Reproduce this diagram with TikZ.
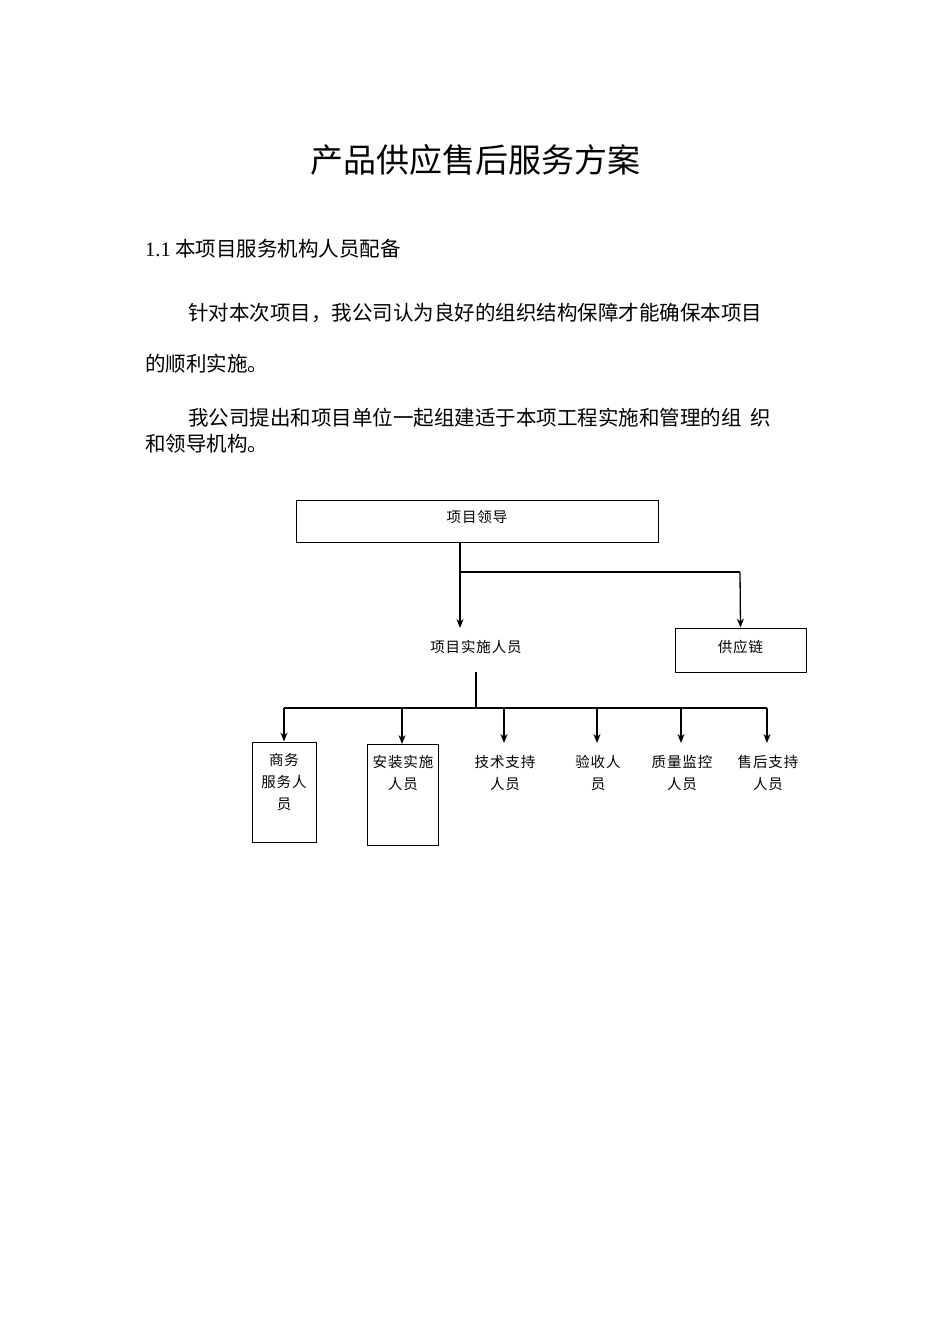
\documentclass[tikz,border=0pt]{standalone}
\usepackage{fontspec}
\setmainfont{Liberation Serif}
\newfontfamily\cjk{Noto Sans CJK SC}[LetterSpace=0]
\newfontfamily\cjksp{Noto Sans CJK SC}[LetterSpace=6]
\usetikzlibrary{arrows.meta}
\begin{document}
\begin{tikzpicture}[x=1pt,y=-1pt,
  box/.style={draw,line width=1pt,inner sep=0pt},
  lbl/.style={font=\cjksp\fontsize{14.5}{22}\selectfont,align=center,inner sep=0pt},
  txt/.style={anchor=west,inner sep=0pt,font=\cjk\fontsize{20.5}{24}\selectfont},
  arr/.style={line width=1.3pt,-{Stealth[length=9pt,width=7pt]}},
  ln/.style={line width=1.3pt}]
\useasboundingbox[fill=white] (0,0) rectangle (950,1344);
\node[inner sep=0pt,font=\cjk\fontsize{33}{36}\selectfont] (title) at (475,160) {产品供应售后服务方案};
\node[txt] (h) at (145,249) {{\rmfamily 1.1} 本项目服务机构人员配备};
\node[txt] (p1) at (188,313) {针对本次项目，我公司认为良好的组织结构保障才能确保本项目};
\node[txt] (p2) at (145,364) {的顺利实施。};
\node[txt] (p3) at (188,418) {我公司提出和项目单位一起组建适于本项工程实施和管理的组\ \ 织};
\node[txt] (p4) at (145,444) {和领导机构。};

\node[box,minimum width=362pt,minimum height=42pt] (lead) at (477,521) {};
\node[lbl] at (477,517) {项目领导};
\node[box,minimum width=131pt,minimum height=44pt] (sup) at (740.5,650) {};
\node[lbl] at (740.5,647) {供应链};
\node[lbl] (impl) at (476,647) {项目实施人员};
\node[box,minimum width=64pt,minimum height=100pt] (b1) at (284,792) {};
\node[lbl] at (284,782) {商务\\服务人\\员};
\node[box,minimum width=71pt,minimum height=101pt] (b2) at (402.5,794.5) {};
\node[lbl] at (403,773) {安装实施\\人员};
\node[lbl] (b3) at (505,773) {技术支持\\人员};
\node[lbl] (b4) at (598,773) {验收人\\员};
\node[lbl] (b5) at (682,773) {质量监控\\人员};
\node[lbl] (b6) at (768,773) {售后支持\\人员};

\coordinate (s) at (460,542);
\draw[arr] (s) -- (460,628);
\draw[ln] (460,572) -- (740,572);
\draw[arr] (740,572) -- (sup.north);
\draw[ln] (476,672) -- (476,708);
\draw[ln] (284,708) -- (767,708);
\draw[arr] (284,708) -- (b1.north);
\draw[arr] (402,708) -- (402,744);
\draw[arr] (504,708) -- (504,743);
\draw[arr] (597,708) -- (597,743);
\draw[arr] (681,708) -- (681,743);
\draw[arr] (767,708) -- (767,743);
\end{tikzpicture}
\end{document}
